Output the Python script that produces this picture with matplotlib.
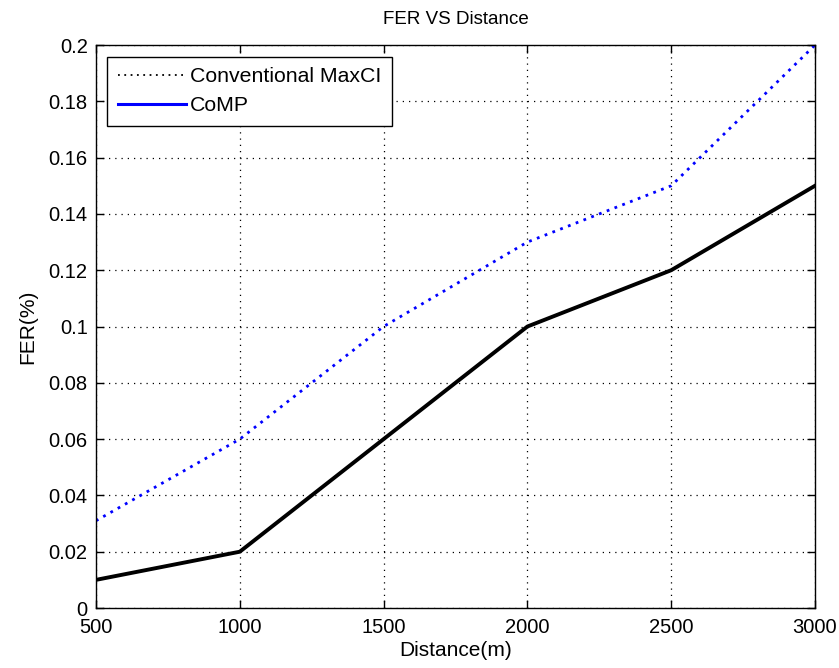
import matplotlib
matplotlib.use("Agg")
import matplotlib.pyplot as plt
from matplotlib.lines import Line2D

# data
distance = [500, 1000, 1500, 2000, 2500, 3000]
fer_maxci = [0.031, 0.060, 0.100, 0.130, 0.150, 0.200]
fer_comp = [0.010, 0.020, 0.060, 0.100, 0.120, 0.150]
legend_labels = ["Conventional MaxCI", "CoMP"]

plt.rcParams["font.family"] = ["Liberation Sans", "DejaVu Sans"]
plt.rcParams["font.size"] = 14.5

fig = plt.figure(figsize=(8.39, 6.68), dpi=100)
ax = fig.add_axes([0.1144, 0.0898, 0.8570, 0.8428])

ax.plot(distance, fer_maxci, color="blue", linestyle=(0, (1, 2)), linewidth=2)
ax.plot(distance, fer_comp, color="black", linewidth=2.8)

ax.set_xlim(500, 3000)
ax.set_ylim(0, 0.2)
ax.set_xticks([500, 1000, 1500, 2000, 2500, 3000])
ax.set_yticks([0, 0.02, 0.04, 0.06, 0.08, 0.1, 0.12, 0.14, 0.16, 0.18, 0.2])
ax.set_yticklabels(["0", "0.02", "0.04", "0.06", "0.08", "0.1", "0.12", "0.14", "0.16", "0.18", "0.2"])
ax.grid(True, color="black", linestyle=(0, (1, 4)), linewidth=0.9)
ax.tick_params(direction="in", top=True, right=True, length=6, width=1)
ax.tick_params(axis="x", pad=7)
ax.tick_params(axis="y", pad=6)
for s in ax.spines.values():
    s.set_linewidth(1)

ax.set_title("FER VS Distance", fontsize=13.5, pad=15)
ax.set_xlabel("Distance(m)", fontsize=15, labelpad=3)
ax.set_ylabel("FER(%)", fontsize=15, labelpad=8)

# legend in the reference does not match the line styles; keep it that way
handles = [Line2D([], [], color="black", linestyle=(0, (1, 2.5)), linewidth=1.3),
           Line2D([], [], color="blue", linewidth=2.2)]
leg = ax.legend(handles, legend_labels, loc="upper left", bbox_to_anchor=(0.016, 0.979),
                fancybox=False, edgecolor="black", framealpha=1, fontsize=15.3,
                handlelength=3.2, handletextpad=0.2, borderaxespad=0,
                labelspacing=0.45, borderpad=0.5)
leg.get_frame().set_linewidth(1)

fig.savefig("out.png", dpi=100)
